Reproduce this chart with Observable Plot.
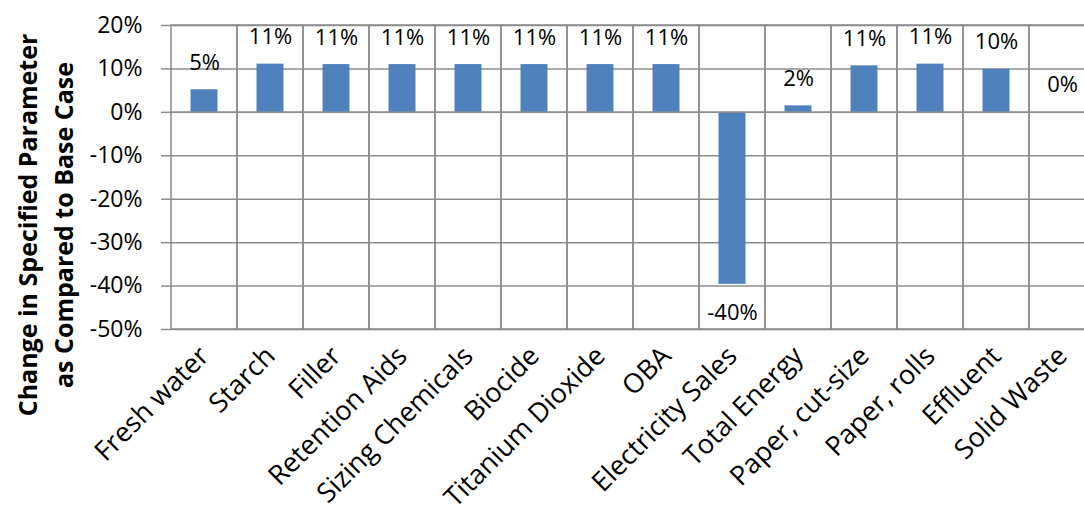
<!DOCTYPE html>
<html>
<head>
<meta charset="utf-8">
<script src="https://cdn.jsdelivr.net/npm/d3@7"></script>
<script src="https://cdn.jsdelivr.net/npm/@observablehq/plot@0.6"></script>
<style>
  html, body { margin: 0; padding: 0; background: white; overflow: hidden; }
  #chart svg { max-width: none; }
</style>
</head>
<body>
<div id="chart"></div>
<script>
const categories = ["Fresh water", "Starch", "Filler", "Retention Aids", "Sizing Chemicals", "Biocide", "Titanium Dioxide", "OBA", "Electricity Sales", "Total Energy", "Paper, cut-size", "Paper, rolls", "Effluent", "Solid Waste"];
const values = [5.2, 11.1, 11.0, 11.0, 11.0, 11.0, 11.0, 11.0, -39.6, 1.5, 10.7, 11.1, 9.9, 0];
const labels = ["5%", "11%", "11%", "11%", "11%", "11%", "11%", "11%", "-40%", "2%", "11%", "11%", "10%", "0%"];
const yTicks = [-50, -40, -30, -20, -10, 0, 10, 20];
const yTitle = ["Change in Specified Parameter", "as Compared to Base Case"];

const data = categories.map((c, i) => ({name: c, value: values[i], label: labels[i]}));
const font = "'Open Sans', sans-serif";
const grid = "#8c8c8c";

const chart = Plot.plot({
  width: 1084,
  height: 511,
  marginLeft: 169,
  marginRight: -13,
  marginTop: 25,
  marginBottom: 182,
  style: {fontFamily: font, fontSize: "22px", color: "#000", background: "white"},
  x: {domain: categories, paddingInner: 0, paddingOuter: 0, label: null},
  y: {domain: [d3.min(yTicks), d3.max(yTicks)], label: null},
  marks: [
    Plot.ruleY(yTicks, {stroke: grid, strokeWidth: 1.5}),
    Plot.barY(data, {x: "name", y1: d3.min(yTicks), y2: d3.max(yTicks), fill: "none", stroke: grid, strokeWidth: 1.5}),
    Plot.barY(data, {x: "name", y: "value", fill: "#4F81BD", insetLeft: 19.5, insetRight: 19.5}),
    Plot.ruleY([0], {stroke: grid, strokeWidth: 1.5}),
    Plot.text(data, {x: "name", y: "value", text: "label", fill: "#000", fontSize: 22,
      filter: d => d.value >= 0, dy: -27}),
    Plot.text(data, {x: "name", y: "value", text: "label", fill: "#000", fontSize: 22,
      filter: d => d.value < 0, dy: 29}),
    Plot.axisY({ticks: yTicks, tickFormat: d => d + "%", tickSize: 8, tickPadding: 19, fontSize: 23, stroke: grid, strokeWidth: 1.5, label: null}),
    Plot.axisX({tickRotate: -45, tickSize: 0, tickPadding: 22, fontSize: 27, label: null})
  ]
});

// two-line rotated y-axis title
const svg = d3.select(chart);
const titleX = [27, 63];
yTitle.forEach((t, i) => {
  svg.append("text")
    .attr("transform", `translate(${titleX[i]},225) rotate(-90)`)
    .attr("text-anchor", "middle")
    .attr("dominant-baseline", "central")
    .attr("font-family", font)
    .attr("font-weight", "bold")
    .attr("font-size", 25)
    .attr("fill", "#000")
    .text(t);
});
document.getElementById("chart").appendChild(chart);
</script>
</body>
</html>
